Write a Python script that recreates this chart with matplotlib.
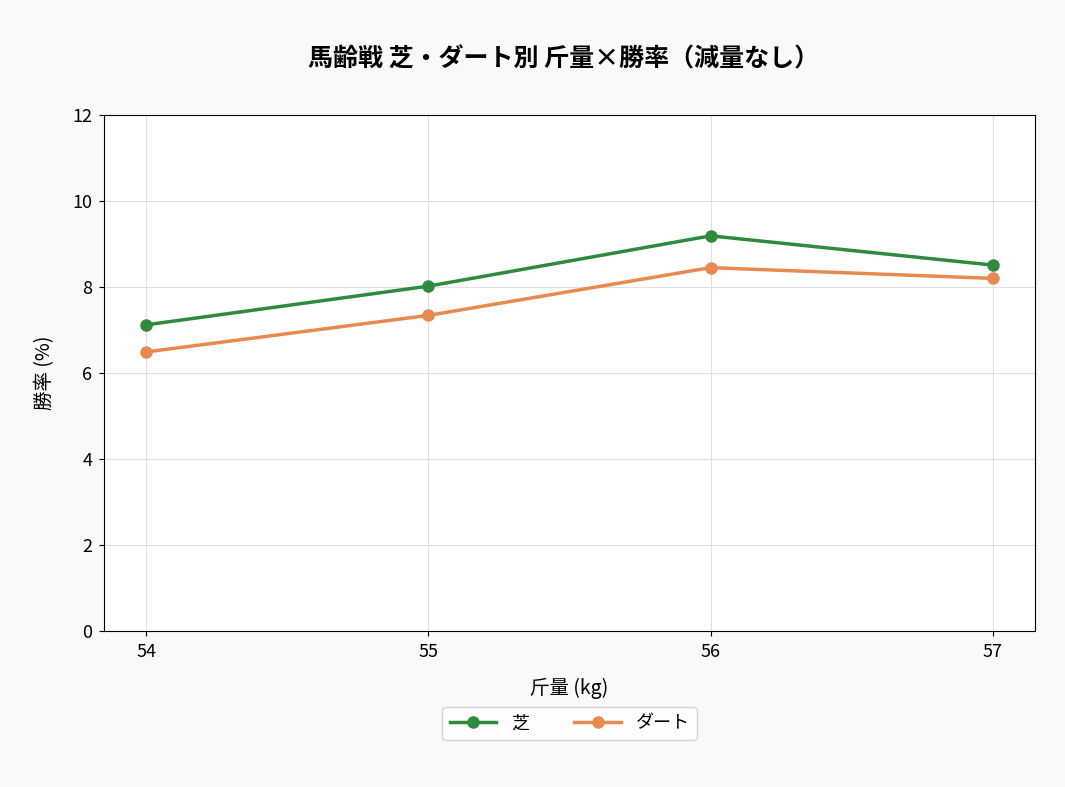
import matplotlib
matplotlib.use('Agg')
import matplotlib.pyplot as plt

plt.rcParams['font.family'] = ['Noto Sans CJK JP', 'DejaVu Sans']

kinryo = [54, 55, 56, 57]
shiba = [7.12, 8.02, 9.19, 8.51]
dirt = [6.49, 7.34, 8.45, 8.20]


def main():
    fig = plt.figure(figsize=(10.65, 7.87), dpi=100, facecolor='#f9f9f9')
    ax = fig.add_axes([104 / 1065, 1 - 631 / 787, 931 / 1065, 516 / 787])
    ax.set_facecolor('white')

    ax.plot(kinryo, shiba, marker='o', color='#2e8b3e', lw=2.5, ms=8, label='芝')
    ax.plot(kinryo, dirt, marker='o', color='#e88a4f', lw=2.5, ms=8, label='ダート')

    ax.set_ylim(0, 12)
    ax.set_xticks(kinryo)
    ax.tick_params(labelsize=13, pad=5)
    ax.grid(True, color='#e0e0e0', lw=0.8)
    ax.set_axisbelow(True)
    ax.set_xlabel('斤量 (kg)', fontsize=14, labelpad=12)
    ax.set_ylabel('勝率 (%)', fontsize=14, labelpad=12)
    fig.text(0.529, 0.924, '馬齢戦 芝・ダート別 斤量×勝率（減量なし）', fontsize=18,
             fontweight='bold', ha='center', va='center')
    ax.legend(loc='upper center', bbox_to_anchor=(0.5, -0.13), ncol=2,
              fontsize=13, frameon=True, edgecolor='#cccccc',
              handlelength=2.6, columnspacing=2.5)

    fig.savefig('out.png', dpi=100, facecolor=fig.get_facecolor())


if __name__ == '__main__':
    main()
